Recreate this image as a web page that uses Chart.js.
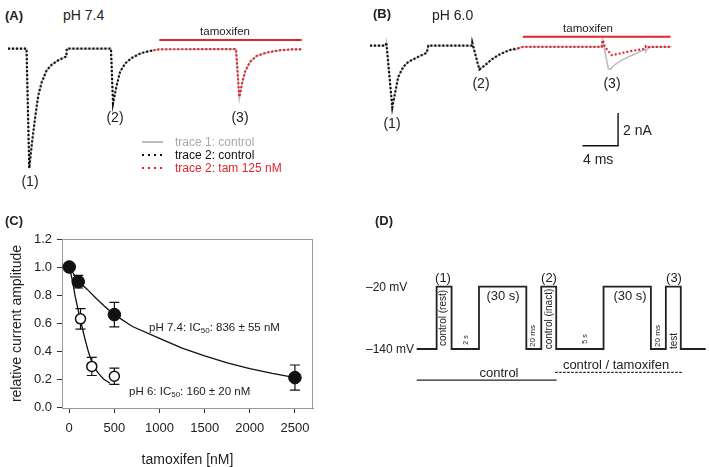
<!DOCTYPE html>
<html lang="en">
<head>
<meta charset="UTF-8">
<title>Tamoxifen block at pH 7.4 and pH 6.0</title>
<script src="https://cdn.jsdelivr.net/npm/chart.js"></script>
<style>
    body {
        margin: 0;
        background: #fff;
        color: #222;
        font-family: "Liberation Sans", Arial, sans-serif;
    }
    #page {
        position: relative;
        width: 709px;
        height: 467px;
        overflow: hidden;
    }
    canvas { position: absolute; }
    /* text helpers: t = centred, l = left anchored, v = rotated */
    .t, .l, .v {
        position: absolute;
        white-space: nowrap;
        line-height: 1;
    }
    .t { transform: translate(-50%, -50%); }
    .l { transform: translateY(-50%); }
    .v { transform: translate(-50%, -50%) rotate(-90deg); font-size: 10px; }
    .b { font-weight: bold; font-size: 13px; }
    .lg { position: absolute; width: 21px; height: 2px; }
    sub { font-size: 8px; vertical-align: -2px; }
</style>
</head>
<body>
<div id="page">
    <canvas id="chartA" width="303" height="156" style="left:8px;top:24px"></canvas>
    <canvas id="chartB" width="306" height="156" style="left:368px;top:21px"></canvas>
    <canvas id="chartC" width="360" height="267" style="left:0;top:200px"></canvas>
    <canvas id="chartD" width="349" height="267" style="left:360px;top:200px"></canvas>

    <!-- panel A -->
    <div class="l b" style="left:5px;top:15px">(A)</div>
    <div class="l" style="left:63px;top:15px;font-size:14px">pH 7.4</div>
    <div class="t" style="left:225px;top:32px;font-size:11.5px">tamoxifen</div>
    <div class="t" style="left:30px;top:181px;font-size:14px">(1)</div>
    <div class="t" style="left:115px;top:117px;font-size:14px">(2)</div>
    <div class="t" style="left:240px;top:117px;font-size:14px">(3)</div>
    <div class="lg" style="left:142px;top:141px;height:1.5px;background:#bbb"></div>
    <div class="lg" style="left:142px;top:154px;background:repeating-linear-gradient(90deg,#111 0 2px,transparent 2px 6px)"></div>
    <div class="lg" style="left:142px;top:167px;background:repeating-linear-gradient(90deg,#e3262b 0 2px,transparent 2px 6px)"></div>
    <div class="l" style="left:175px;top:142px;font-size:12px;color:#aaa">trace 1: control</div>
    <div class="l" style="left:175px;top:155px;font-size:12px;color:#111">trace 2: control</div>
    <div class="l" style="left:175px;top:168px;font-size:12px;color:#e3262b">trace 2: tam 125 nM</div>

    <!-- panel B -->
    <div class="l b" style="left:373px;top:13px">(B)</div>
    <div class="l" style="left:432px;top:15px;font-size:14px">pH 6.0</div>
    <div class="t" style="left:588px;top:29px;font-size:11.5px">tamoxifen</div>
    <div class="t" style="left:392px;top:123px;font-size:14px">(1)</div>
    <div class="t" style="left:481px;top:83px;font-size:14px">(2)</div>
    <div class="t" style="left:612px;top:83px;font-size:14px">(3)</div>
    <div class="l" style="left:623px;top:130px;font-size:14px">2 nA</div>
    <div class="l" style="left:583px;top:159px;font-size:14px">4 ms</div>

    <!-- panel C -->
    <div class="l b" style="left:5px;top:220px">(C)</div>
    <div class="l" style="left:149px;top:328px;font-size:11.5px">pH 7.4: IC<sub>50</sub>: 836 ± 55 nM</div>
    <div class="l" style="left:129px;top:392px;font-size:11.5px">pH 6: IC<sub>50</sub>: 160 ± 20 nM</div>

    <!-- panel D -->
    <div class="l b" style="left:375px;top:220px">(D)</div>
    <div class="l" style="left:366px;top:287px;font-size:12px">–20 mV</div>
    <div class="l" style="left:366px;top:349px;font-size:12px">–140 mV</div>
    <div class="t" style="left:443px;top:277px;font-size:13px">(1)</div>
    <div class="t" style="left:549px;top:277px;font-size:13px">(2)</div>
    <div class="t" style="left:674px;top:277px;font-size:13px">(3)</div>
    <div class="t" style="left:503px;top:295px;font-size:13px">(30 s)</div>
    <div class="t" style="left:630px;top:295px;font-size:13px">(30 s)</div>
    <div class="v" style="left:443px;top:318px">control (rest)</div>
    <div class="v" style="left:465px;top:340px;font-size:7px">2 s</div>
    <div class="v" style="left:533px;top:336px;font-size:8px">20 ms</div>
    <div class="v" style="left:549px;top:319px">control (inact)</div>
    <div class="v" style="left:584px;top:339px;font-size:7px">5 s</div>
    <div class="v" style="left:658px;top:336px;font-size:8px">20 ms</div>
    <div class="v" style="left:674px;top:341px">test</div>
    <div class="t" style="left:499px;top:372px;font-size:13px">control</div>
    <div class="t" style="left:616px;top:364px;font-size:13px">control / tamoxifen</div>
</div>

<script>
// ---- panel A (pH 7.4), time in ms, current in nA ----
const aTime = [0, 2.08, 2.39, 2.66, 3.03, 3.40, 3.79, 4.35, 4.91, 5.65, 6.40, 6.54, 6.60,
    11.57, 11.80, 12.21, 12.58, 13.15, 13.90, 14.64, 15.39, 16.33,
    17.08, 25.62, 25.99, 26.26, 26.63, 27.19, 27.94, 29.07, 30.56, 32.06, 33.0];
const aTrace1 = [0, 0, -7.28, -5.90, -4.27, -2.85, -2.04, -1.32, -0.98, -0.71, -0.51, -0.50, 0,
    0, -3.34, -2.24, -1.43, -0.91, -0.57, -0.35, -0.21, -0.10,
    -0.04, -0.03, -3.05, -2.24, -1.43, -0.82, -0.45, -0.24, -0.10, -0.04, -0.04];
const aCtrl2 = [0, 0, -7.28, -5.90, -4.27, -2.85, -2.04, -1.32, -0.98, -0.71, -0.51, -0.50, 0,
    0, -3.34, -2.24, -1.43, -0.91, -0.57, -0.35, -0.21, -0.10,
    null, null, null, null, null, null, null, null, null, null, null];
const aTam = [null, null, null, null, null, null, null, null, null, null, null, null, null,
    null, null, null, null, null, null, null, null, -0.10,
    -0.04, -0.03, -2.95, -2.20, -1.40, -0.80, -0.44, -0.24, -0.10, -0.04, -0.04];
const aTamBar = [17.0, 33.0];

// ---- panel B (pH 6.0) ----
const bTime = [0.22, 1.99, 2.06, 2.73, 3.03, 3.40, 3.97, 4.53, 5.28, 6.03, 6.60, 6.78,
    11.69, 11.72, 12.51, 13.15, 13.90, 14.64, 15.39, 16.15, 16.52, 16.82,
    17.42, 26.26, 26.37, 27.0, 27.19, 27.75, 28.51, 29.44, 30.56, 31.12, 31.2, 31.49, 34.12];
const bTrace1 = [0, 0, 0.20, -3.77, -2.91, -1.90, -1.29, -0.99, -0.78, -0.58, -0.44, 0,
    0, 0.17, -1.45, -1.19, -0.84, -0.58, -0.38, -0.23, -0.27, -0.17,
    -0.07, -0.07, 0.34, -1.39, -1.45, -1.15, -0.88, -0.64, -0.38, -0.21, -0.38, -0.09, -0.07];
const bCtrlTime = [0.22, 1.99, 2.06, 2.73, 3.03, 3.40, 3.97, 4.53, 5.28, 6.03, 6.60, 6.78,
    11.69, 11.72, 12.51, 13.15, 13.90, 14.64, 15.39, 16.15, 16.82];
const bCtrl2 = [0, 0, 0.20, -3.77, -2.91, -1.90, -1.29, -0.99, -0.78, -0.58, -0.44, 0,
    0, 0.17, -1.45, -1.19, -0.84, -0.58, -0.38, -0.23, -0.17];
const bTamTime = [16.82, 17.42, 26.26, 26.37, 26.63, 27.38, 28.31, 29.44, 30.93, 31.18, 31.3, 31.69, 34.12];
const bTam = [-0.17, -0.07, -0.07, 0.34, -0.09, -0.58, -0.48, -0.34, -0.21, -0.05, -0.15, -0.07, -0.07];
const bTamBar = [17.4, 34.0];
const scaleBarT = [24.1, 28.1, 28.1];   // 4 ms
const scaleBarI = [-6.1, -6.1, -4.1];   // 2 nA

// ---- panel C: dose response ----
const xTicks = [0, 500, 1000, 1500, 2000, 2500];
const yTicks = [0, 0.2, 0.4, 0.6, 0.8, 1.0, 1.2];
const ph74Conc = [0, 100, 500, 2500];
const ph74Amp = [1.0, 0.895, 0.66, 0.21];
const ph74Err = [0, 0.045, 0.088, 0.09];
const ph6Conc = [0, 125, 250, 500];
const ph6Amp = [1.0, 0.63, 0.29, 0.22];
const ph6Err = [0, 0.073, 0.065, 0.058];
const fit74Conc = [0, 100, 200, 300, 400, 500, 700, 1000, 1250, 1500, 1750, 2000, 2250, 2500];
const fit74Amp = [1.0, 0.90, 0.84, 0.775, 0.715, 0.66, 0.575, 0.49, 0.42, 0.365, 0.315, 0.275, 0.24, 0.21];
const fit6Conc = [0, 30, 66, 100, 122, 150, 177, 210, 251, 290, 324, 380, 453];
const fit6Amp = [1.0, 0.92, 0.79, 0.69, 0.63, 0.55, 0.48, 0.40, 0.32, 0.27, 0.24, 0.20, 0.17];

// ---- panel D: voltage protocol (schematic time units, mV) ----
const protoT = [0, 4, 7, 12.5, 22, 25, 28, 37.5, 47, 50, 53, 58];
const protoV = [-140, -20, -140, -20, -140, -20, -140, -20, -140, -20, -140, -140];
const controlBar = [0, 28.1];
const tamBar = [27.8, 53.2];

const FONT = '"Liberation Sans", Arial, sans-serif';
const RED = '#e3262b';

function pts(xs, ys) {
    return xs.map((x, i) => ({x: x, y: ys[i]})).filter(p => p.y !== null);
}

function hline(xs, y) {
    return xs.map(x => ({x: x, y: y}));
}

function plainChart(id, scales, datasets, padding, plugins) {
    return new Chart(document.getElementById(id), {
        type: 'line',
        data: {datasets: datasets},
        options: {
            responsive: false,
            animation: false,
            devicePixelRatio: 1,
            layout: {padding: padding || 0},
            plugins: {legend: {display: false}, tooltip: {enabled: false}},
            elements: {point: {radius: 0}, line: {tension: 0}},
            scales: scales
        },
        plugins: plugins || []
    });
}

// gray trace underneath (higher order is drawn first)
const grayLine = {borderColor: '#bdbdbd', borderWidth: 1.6, clip: false, order: 5};
const blackDots = {borderColor: '#111', borderWidth: 2.2, borderDash: [2, 2], clip: false, order: 2};
const redDots = {borderColor: RED, borderWidth: 2.2, borderDash: [2, 2], clip: false, order: 1};

// panel A
plainChart('chartA', {
    x: {type: 'linear', display: false, min: 0, max: 303 / 8.9},
    y: {type: 'linear', display: false, min: -8.0, max: 1.5}
}, [
    Object.assign({data: pts(aTime, aTrace1)}, grayLine),
    Object.assign({data: pts(aTime, aCtrl2)}, blackDots),
    Object.assign({data: pts(aTime, aTam)}, redDots),
    {data: hline(aTamBar, 0.52), borderColor: RED, borderWidth: 2, clip: false}
]);

// panel B
plainChart('chartB', {
    x: {type: 'linear', display: false, min: 0, max: 306 / 8.9},
    y: {type: 'linear', display: false, min: -8.0, max: 1.5}
}, [
    Object.assign({data: pts(bTime, bTrace1)}, grayLine),
    Object.assign({data: pts(bCtrlTime, bCtrl2)}, blackDots),
    Object.assign({data: pts(bTamTime, bTam)}, redDots),
    {data: hline(bTamBar, 0.54), borderColor: RED, borderWidth: 2, clip: false},
    {data: pts(scaleBarT, scaleBarI), borderColor: '#111', borderWidth: 1.4, clip: false}
]);

// panel C
const errorBars = {
    id: 'errorBars',
    beforeDatasetsDraw(chart) {
        const {ctx, chartArea: a, scales: {x, y}} = chart;
        ctx.save();
        ctx.strokeStyle = '#999';
        ctx.lineWidth = 1;
        ctx.strokeRect(a.left + 0.5, a.top + 0.5, a.right - a.left - 1, a.bottom - a.top);
        ctx.strokeStyle = '#111';
        ctx.lineWidth = 1.2;
        const draw = (cs, vs, es) => cs.forEach((c, i) => {
            if (!es[i]) return;
            const px = x.getPixelForValue(c);
            const top = y.getPixelForValue(vs[i] + es[i]);
            const bot = y.getPixelForValue(vs[i] - es[i]);
            ctx.beginPath();
            ctx.moveTo(px, top); ctx.lineTo(px, bot);
            ctx.moveTo(px - 5, top); ctx.lineTo(px + 5, top);
            ctx.moveTo(px - 5, bot); ctx.lineTo(px + 5, bot);
            ctx.stroke();
        });
        draw(ph74Conc, ph74Amp, ph74Err);
        draw(ph6Conc, ph6Amp, ph6Err);
        ctx.restore();
    }
};

plainChart('chartC', {
    x: {
        type: 'linear', min: -80, max: 2700,
        afterBuildTicks: s => { s.ticks = xTicks.map(v => ({value: v})); },
        afterFit: s => { s.height = 59; },
        grid: {drawOnChartArea: false, tickLength: 5, color: '#333'},
        border: {color: '#999'},
        ticks: {color: '#222', font: {size: 13, family: FONT}, padding: 8, maxRotation: 0,
            autoSkip: false, callback: v => String(v)},
        title: {display: true, text: 'tamoxifen [nM]', color: '#222',
            font: {size: 14, family: FONT}, padding: {top: 0, bottom: -2}}
    },
    y: {
        type: 'linear', min: -0.007, max: 1.2,
        afterBuildTicks: s => { s.ticks = yTicks.map(v => ({value: v})); },
        afterFit: s => { s.width = 62; },
        grid: {drawOnChartArea: false, tickLength: 5, color: '#333'},
        border: {color: '#999'},
        ticks: {color: '#222', font: {size: 13, family: FONT}, padding: 5, callback: v => v.toFixed(1)},
        title: {display: true, text: 'relative current amplitude', color: '#222',
            font: {size: 14, family: FONT}, padding: {top: 9, bottom: 0}}
    }
}, [
    {data: pts(fit74Conc, fit74Amp), borderColor: '#111', borderWidth: 1.3, order: 3},
    {data: pts(fit6Conc, fit6Amp), borderColor: '#111', borderWidth: 1.3, order: 4},
    {data: pts(ph6Conc, ph6Amp), showLine: false, pointRadius: 5, backgroundColor: '#fff',
        borderColor: '#111', borderWidth: 1.5, order: 2, clip: false},
    {data: pts(ph74Conc, ph74Amp), showLine: false, pointRadius: 6.3, backgroundColor: '#111',
        borderColor: '#111', borderWidth: 1, order: 1, clip: false}
], {top: 39, right: 47, left: 0, bottom: 0}, [errorBars]);

// panel D
plainChart('chartD', {
    x: {type: 'linear', display: false, min: 0, max: 58},
    y: {type: 'linear', display: false, min: -240, max: 0}
}, [
    {data: pts(protoT, protoV), stepped: 'before', borderColor: '#222', borderWidth: 1.8,
        borderJoinStyle: 'miter', clip: false},
    {data: hline(controlBar, -200), borderColor: '#222', borderWidth: 1.2, clip: false},
    {data: hline(tamBar, -185), borderColor: '#222', borderWidth: 1.4, borderDash: [2.5, 1.5], clip: false}
], {left: 56.7, right: 3.3, top: 76.3, bottom: 66.1});
</script>
</body>
</html>
